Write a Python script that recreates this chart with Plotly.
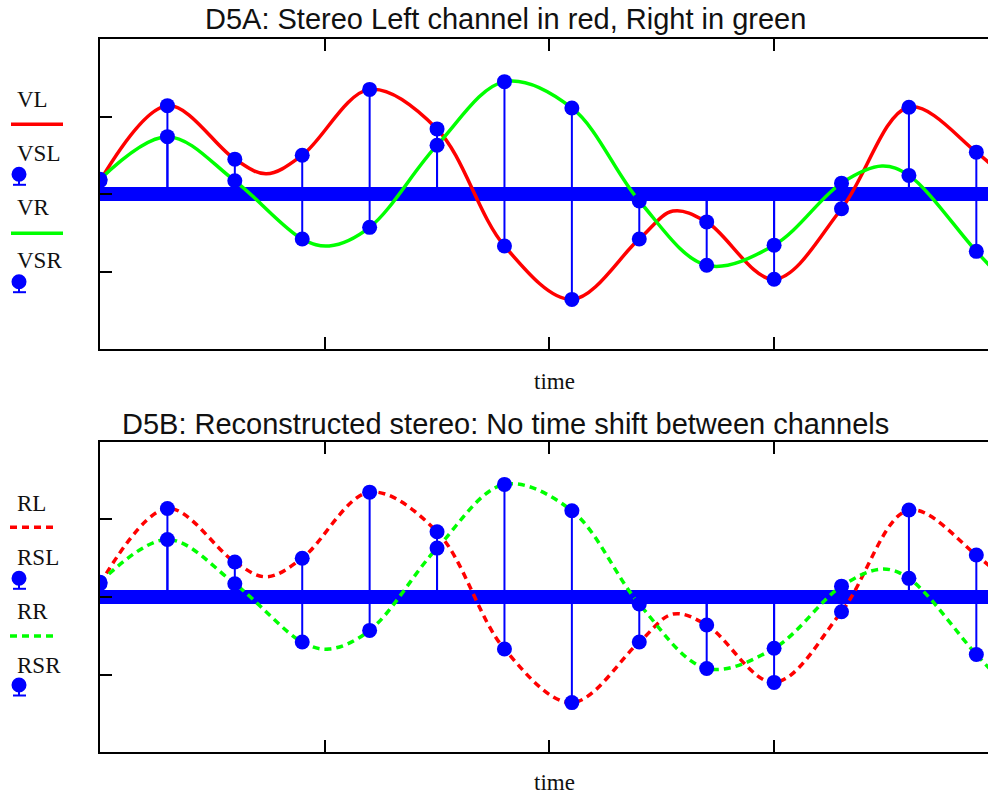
import plotly.graph_objects as go

W, H = 988, 796

# ---- data ----
t_samples = [0.0, 0.3, 0.6, 0.9, 1.2, 1.5, 1.8, 2.1, 2.4, 2.7, 3.0, 3.3, 3.6, 3.9]
VSL = [0.17, 1.14, 0.45, 0.50, 1.35, 0.84, -0.67, -1.36, -0.58, -0.36, -1.10, -0.19, 1.12, 0.54]
VSR = [0.19, 0.74, 0.17, -0.58, -0.43, 0.63, 1.45, 1.11, -0.09, -0.92, -0.66, 0.14, 0.24, -0.74]

t_left = [0.0, 0.3, 0.6, 0.74, 0.9, 1.2, 1.5, 1.8, 2.1, 2.4, 2.55, 2.7, 3.0, 3.3, 3.6, 3.9, 4.05]
VL = [0.17, 1.14, 0.45, 0.26, 0.50, 1.35, 0.84, -0.67, -1.36, -0.58, -0.22, -0.36, -1.10, -0.19, 1.12, 0.54, 0.15]

t_right = [0.0, 0.3, 0.6, 0.9, 1.02, 1.2, 1.5, 1.8, 2.1, 2.4, 2.7, 3.0, 3.3, 3.48, 3.6, 3.9, 4.05]
VR = [0.19, 0.74, 0.17, -0.58, -0.67, -0.43, 0.63, 1.45, 1.11, -0.09, -0.92, -0.66, 0.14, 0.36, 0.24, -0.74, -1.2]

# reconstructed (panel B) - same samples, same reconstructed curves
RSL = VSL
RSR = VSR
RL = VL
RR = VR

x_ticks = [0, 1, 2, 3]
y_ticks = [-1, 0, 1]

RED = "#ff0000"
GREEN = "#00ff00"
BLUE = "#0000ff"
DASH = "7px,5px"
SERIF = "Liberation Serif, Times New Roman, serif"
SANS = "Liberation Sans, Arial, sans-serif"


def px(x):
    return x / W


def py(y):
    return 1 - y / H


def stems(ts, vs):
    xs, ys = [], []
    for t, v in zip(ts, vs):
        xs += [t, t, None]
        ys += [0, v, None]
    return xs, ys


fig = go.Figure()

panels = [
    ("x", "y", t_left, VL, t_right, VR, VSL, VSR, "solid", ("VL", "VR", "VSL", "VSR")),
    ("x2", "y2", t_left, RL, t_right, RR, RSL, RSR, DASH, ("RL", "RR", "RSL", "RSR")),
]

for xa, ya, tl, cl, tr, cr, sl, sr, dash, names in panels:
    fig.add_trace(go.Scatter(x=tl, y=cl, mode="lines", name=names[0], xaxis=xa, yaxis=ya,
                             line=dict(color=RED, width=3.5, shape="spline", dash=dash)))
    fig.add_trace(go.Scatter(x=tr, y=cr, mode="lines", name=names[1], xaxis=xa, yaxis=ya,
                             line=dict(color=GREEN, width=3.5, shape="spline", dash=dash)))
    for vals, nm in ((sl, names[2]), (sr, names[3])):
        sx, sy = stems(t_samples, vals)
        fig.add_trace(go.Scatter(x=sx, y=sy, mode="lines", xaxis=xa, yaxis=ya, showlegend=False,
                                 line=dict(color=BLUE, width=2), hoverinfo="skip"))
        fig.add_trace(go.Scatter(x=t_samples, y=vals, mode="markers", name=nm, xaxis=xa, yaxis=ya,
                                 marker=dict(color=BLUE, size=15, line=dict(width=0))))

x_range = [0, (988 - 100) / 224.7]

common_x = dict(range=x_range, showgrid=False, zeroline=False, showline=True, linecolor="black",
                linewidth=2, mirror="ticks", ticks="inside", ticklen=12, tickwidth=2, tickcolor="black",
                tickvals=x_ticks, showticklabels=False)
common_y = dict(range=[-2, 2], showgrid=False, zeroline=True, zerolinecolor=BLUE, zerolinewidth=14,
                showline=True, linecolor="black", linewidth=2, mirror=False, ticks="inside", ticklen=12,
                tickwidth=2, tickcolor="black", tickvals=y_ticks, showticklabels=False,
                layer="above traces")

fig.update_layout(
    width=W, height=H, margin=dict(l=0, r=0, t=0, b=0),
    paper_bgcolor="white", plot_bgcolor="white", showlegend=False,
    xaxis=dict(domain=[px(100), 1], anchor="y", **common_x),
    yaxis=dict(domain=[py(349), py(39)], anchor="x", **common_y),
    xaxis2=dict(domain=[px(100), 1], anchor="y2", **common_x),
    yaxis2=dict(domain=[py(752.3), py(441.7)], anchor="x2", **common_y),
)

annotations = []
shapes = []

# titles
annotations.append(dict(text="D5A: Stereo Left channel in red, Right in green", x=px(505.5), y=py(19),
                        xref="paper", yref="paper", xanchor="center", yanchor="middle", showarrow=False,
                        font=dict(family=SANS, size=29, color="#111111")))
annotations.append(dict(text="D5B: Reconstructed stereo: No time shift between channels", x=px(505.5),
                        y=py(423.7), xref="paper", yref="paper", xanchor="center", yanchor="middle",
                        showarrow=False, font=dict(family=SANS, size=29, color="#111111")))
# axis labels
for yc in (381.5, 782.5):
    annotations.append(dict(text="time", x=px(554), y=py(yc), xref="paper", yref="paper",
                            xanchor="center", yanchor="middle", showarrow=False,
                            font=dict(family=SERIF, size=23, color="#111111")))

# custom legends (text above symbol)
legend_specs = [
    # (label, text_y, kind, symbol_y, color, dash, x0, x1)
    ("VL", 99.2, "line", 124.3, RED, "solid", 11, 63),
    ("VSL", 153.0, "stem", 174.3, BLUE, None, None, None),
    ("VR", 207.5, "line", 233.3, GREEN, "solid", 11, 63),
    ("VSR", 260.5, "stem", 281.7, BLUE, None, None, None),
    ("RL", 503.3, "line", 527.3, RED, DASH, 10, 56),
    ("RSL", 557.5, "stem", 578.3, BLUE, None, None, None),
    ("RR", 611.7, "line", 636.0, GREEN, DASH, 10, 56),
    ("RSR", 665.5, "stem", 685.0, BLUE, None, None, None),
]
for label, ty, kind, sy, col, dash, x0, x1 in legend_specs:
    annotations.append(dict(text=label, x=px(15), y=py(ty), xref="paper", yref="paper",
                            xanchor="left", yanchor="middle", showarrow=False,
                            font=dict(family=SERIF, size=23, color="#111111")))
    if kind == "line":
        shapes.append(dict(type="line", xref="paper", yref="paper", x0=px(x0), x1=px(x1),
                           y0=py(sy), y1=py(sy), line=dict(color=col, width=3.5, dash=dash)))
    else:
        r = 7.5
        shapes.append(dict(type="circle", xref="paper", yref="paper", x0=px(19 - r), x1=px(19 + r),
                           y0=py(sy + r), y1=py(sy - r), fillcolor=col, line=dict(width=0)))
        shapes.append(dict(type="line", xref="paper", yref="paper", x0=px(19), x1=px(19),
                           y0=py(sy + 6), y1=py(sy + 10.5), line=dict(color=col, width=2)))
        shapes.append(dict(type="line", xref="paper", yref="paper", x0=px(13), x1=px(26),
                           y0=py(sy + 10.5), y1=py(sy + 10.5), line=dict(color=col, width=2)))

fig.update_layout(annotations=annotations, shapes=shapes)

fig.write_html("out.html")
